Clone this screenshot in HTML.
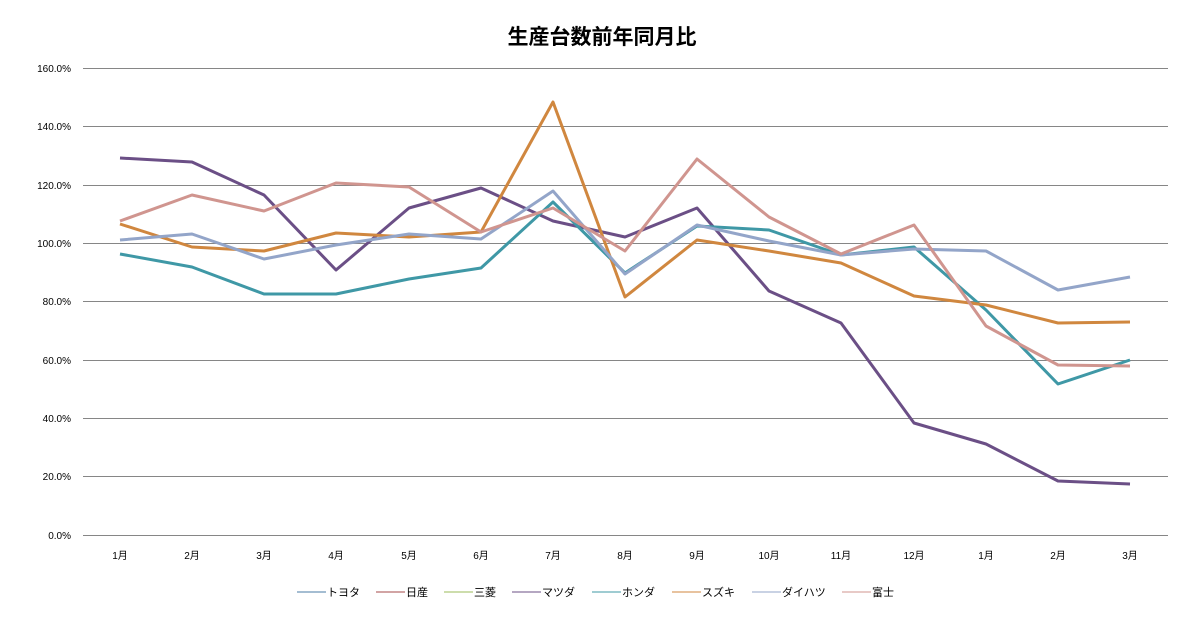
<!DOCTYPE html>
<html><head><meta charset="utf-8"><style>body{margin:0;background:#fff}</style></head><body>
<svg width="1204" height="615" xmlns="http://www.w3.org/2000/svg" font-family="Liberation Sans, Noto Sans CJK JP, sans-serif">
<text x="602" y="44" text-anchor="middle" font-size="21" font-weight="bold" fill="#000">生産台数前年同月比</text>
<g stroke="#868686" stroke-width="1">
<line x1="83" x2="1168" y1="68.5" y2="68.5"/><line x1="83" x2="1168" y1="126.5" y2="126.5"/><line x1="83" x2="1168" y1="185.5" y2="185.5"/><line x1="83" x2="1168" y1="243.5" y2="243.5"/><line x1="83" x2="1168" y1="301.5" y2="301.5"/><line x1="83" x2="1168" y1="360.5" y2="360.5"/><line x1="83" x2="1168" y1="418.5" y2="418.5"/><line x1="83" x2="1168" y1="476.5" y2="476.5"/><line x1="83" x2="1168" y1="535.5" y2="535.5"/>
</g>
<g font-size="10" fill="#000" text-anchor="end">
<text x="71" y="72">160.0%</text><text x="71" y="130">140.0%</text><text x="71" y="189">120.0%</text><text x="71" y="247">100.0%</text><text x="71" y="305">80.0%</text><text x="71" y="364">60.0%</text><text x="71" y="422">40.0%</text><text x="71" y="480">20.0%</text><text x="71" y="539">0.0%</text>
</g>
<g font-size="10" fill="#000" text-anchor="middle">
<text x="120" y="559">1月</text><text x="192" y="559">2月</text><text x="264" y="559">3月</text><text x="336" y="559">4月</text><text x="409" y="559">5月</text><text x="481" y="559">6月</text><text x="553" y="559">7月</text><text x="625" y="559">8月</text><text x="697" y="559">9月</text><text x="769" y="559">10月</text><text x="841" y="559">11月</text><text x="914" y="559">12月</text><text x="986" y="559">1月</text><text x="1058" y="559">2月</text><text x="1130" y="559">3月</text>
</g>
<g fill="none" stroke-width="3" stroke-linejoin="round">
<polyline stroke="#6b4f86" points="120,158 192,162 264,195 336,270 409,208 481,188 553,221 625,237 697,208 769,291 841,323 914,423 986,444 1058,481 1130,484"/>
<polyline stroke="#3f98a6" points="120,254 192,267 264,294 336,294 409,279 481,268 553,202 625,273 697,226 769,230 841,255 914,247 986,310 1058,384 1130,360"/>
<polyline stroke="#d0873f" points="120,224 192,247 264,251 336,233 409,237 481,232 553,102 625,297 697,240 769,251 841,263 914,296 986,305 1058,323 1130,322"/>
<polyline stroke="#93a5c9" points="120,240 192,234 264,259 336,245 409,234 481,239 553,191 625,274 697,225 769,241 841,255 914,249 986,251 1058,290 1130,277"/>
<polyline stroke="#d0958f" points="120,221 192,195 264,211 336,183 409,187 481,232 553,208 625,251 697,159 769,217 841,254 914,225 986,326 1058,365 1130,366"/>
</g>
<g font-size="11" fill="#000" stroke-width="1">
<line x1="297" x2="326" y1="592" y2="592" stroke="#4a7ba6"/><text x="327" y="596">トヨタ</text>
<line x1="376" x2="405" y1="592" y2="592" stroke="#a64a48"/><text x="406" y="596">日産</text>
<line x1="444" x2="473" y1="592" y2="592" stroke="#9bbb59"/><text x="474" y="596">三菱</text>
<line x1="512" x2="541" y1="592" y2="592" stroke="#6b4f86"/><text x="542" y="596">マツダ</text>
<line x1="592" x2="621" y1="592" y2="592" stroke="#3f98a6"/><text x="622" y="596">ホンダ</text>
<line x1="672" x2="701" y1="592" y2="592" stroke="#d0873f"/><text x="702" y="596">スズキ</text>
<line x1="752" x2="781" y1="592" y2="592" stroke="#93a5c9"/><text x="782" y="596">ダイハツ</text>
<line x1="842" x2="871" y1="592" y2="592" stroke="#d0958f"/><text x="872" y="596">富士</text>
</g>
</svg>
</body></html>
